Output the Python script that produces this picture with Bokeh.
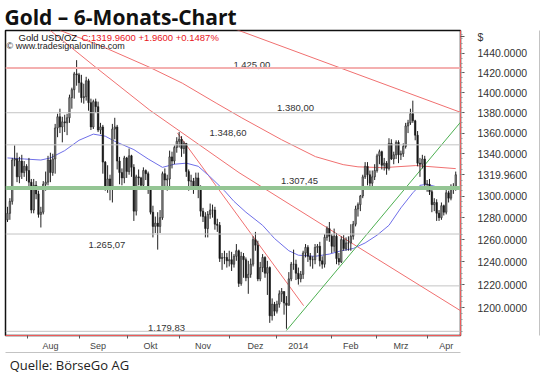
from bokeh.plotting import figure
from bokeh.layouts import column
from bokeh.models import (ColumnDataSource, Range1d, FixedTicker, NumeralTickFormatter,
                          Span, Label, LinearAxis)
from bokeh.core.properties import value
from bokeh.embed import file_html
from bokeh.resources import INLINE

# ---------------- data (daily bars, 18 Jul 2013 - 10 Apr 2014) ----------------
first_open = 1278.0
close = [
    1284, 1295, 1334, 1335, 1318, 1333, 1322, 1328, 1324, 1313,
    1287, 1310, 1302, 1283, 1285, 1311, 1313, 1334, 1322, 1335, 1365, 1376, 1366, 1371, 1370, 1375, 1395, 1403, 1419, 1418, 1410, 1395,
    1396, 1412, 1390, 1366, 1391, 1386, 1363, 1366, 1332, 1308, 1316, 1309, 1364, 1366, 1333, 1322, 1317, 1336, 1323, 1338, 1327,
    1286, 1318, 1317, 1310, 1324, 1321, 1306, 1285, 1272, 1275, 1272, 1280, 1321, 1315, 1316, 1337, 1333, 1346, 1352, 1354, 1345, 1350, 1323,
    1314, 1314, 1309, 1317, 1308, 1286, 1281, 1270, 1283, 1287, 1287, 1274, 1273, 1243, 1244, 1244, 1241, 1242, 1238, 1245, 1250,
    1221, 1245, 1242, 1226, 1229, 1238, 1260, 1255, 1225, 1235, 1244, 1230, 1235, 1193, 1203, 1197, 1203, 1212, 1214, 1204, 1202,
    1225, 1238, 1238, 1230, 1225, 1229, 1248, 1253, 1245, 1242, 1242, 1253, 1254, 1241, 1238, 1262, 1270, 1263, 1254, 1263, 1243, 1240,
    1260, 1252, 1257, 1257, 1263, 1274, 1288, 1292, 1300, 1318, 1328, 1320, 1312, 1318, 1324, 1338, 1342, 1329, 1331, 1326,
    1350, 1335, 1339, 1351, 1339, 1340, 1347, 1367, 1370, 1379, 1372, 1358, 1331, 1330, 1335, 1311, 1311, 1304, 1292, 1294, 1284,
    1280, 1291, 1285, 1303, 1298, 1309, 1307, 1319.96,
]
high = [
    1290, 1298, 1336, 1348, 1341, 1337, 1339, 1333, 1330, 1336,
    1316, 1316, 1314, 1305, 1290, 1314, 1323, 1338, 1341, 1340, 1369, 1379, 1384, 1376, 1378, 1379, 1398, 1405, 1421, 1433, 1420, 1418,
    1409, 1416, 1414, 1394, 1393, 1394, 1391, 1370, 1368, 1333, 1329, 1320, 1369, 1375, 1368, 1337, 1326, 1338, 1337, 1345, 1339,
    1330, 1320, 1325, 1318, 1327, 1325, 1323, 1309, 1291, 1281, 1285, 1287, 1323, 1326, 1320, 1343, 1342, 1348, 1356, 1361, 1357, 1352, 1350,
    1325, 1320, 1317, 1322, 1322, 1310, 1289, 1285, 1286, 1293, 1292, 1290, 1279, 1276, 1248, 1250, 1248, 1250, 1249, 1247, 1256,
    1251, 1249, 1248, 1244, 1241, 1243, 1263, 1267, 1259, 1240, 1247, 1245, 1241, 1236, 1208, 1205, 1206, 1215, 1217, 1214, 1210,
    1231, 1240, 1251, 1242, 1235, 1232, 1250, 1256, 1255, 1248, 1245, 1256, 1256, 1258, 1245, 1265, 1272, 1276, 1265, 1270, 1266, 1248,
    1263, 1264, 1262, 1263, 1274, 1277, 1291, 1294, 1301, 1320, 1332, 1332, 1324, 1324, 1330, 1340, 1344, 1343, 1336, 1333,
    1355, 1354, 1342, 1353, 1353, 1343, 1350, 1370, 1373, 1384, 1392, 1373, 1362, 1336, 1339, 1338, 1315, 1316, 1306, 1298, 1297,
    1287, 1294, 1292, 1307, 1305, 1311, 1312, 1323,
]
low = [
    1276, 1278, 1292, 1328, 1313, 1312, 1316, 1318, 1314, 1306,
    1284, 1284, 1297, 1280, 1271, 1283, 1305, 1310, 1313, 1319, 1321, 1356, 1360, 1351, 1361, 1358, 1370, 1384, 1394, 1407, 1400, 1390,
    1389, 1392, 1382, 1363, 1364, 1380, 1361, 1359, 1321, 1305, 1303, 1296, 1294, 1354, 1325, 1311, 1310, 1312, 1317, 1320, 1318,
    1277, 1282, 1310, 1306, 1307, 1315, 1302, 1283, 1262, 1266, 1251, 1266, 1278, 1309, 1305, 1307, 1326, 1330, 1341, 1346, 1337, 1340, 1318,
    1305, 1307, 1302, 1306, 1298, 1281, 1276, 1262, 1262, 1279, 1280, 1269, 1267, 1240, 1233, 1238, 1235, 1236, 1232, 1235, 1241,
    1218, 1219, 1226, 1223, 1212, 1226, 1236, 1250, 1223, 1223, 1231, 1226, 1211, 1187, 1189, 1193, 1195, 1200, 1205, 1194, 1182,
    1202, 1223, 1233, 1224, 1220, 1222, 1225, 1244, 1240, 1236, 1234, 1238, 1248, 1236, 1234, 1235, 1259, 1258, 1248, 1249, 1238, 1237,
    1239, 1250, 1250, 1250, 1250, 1260, 1272, 1281, 1286, 1298, 1316, 1310, 1308, 1306, 1315, 1322, 1330, 1325, 1324, 1320,
    1324, 1334, 1330, 1335, 1331, 1334, 1337, 1345, 1360, 1368, 1370, 1353, 1328, 1318, 1326, 1307, 1304, 1301, 1285, 1286, 1277,
    1277, 1278, 1282, 1283, 1294, 1296, 1302, 1305,
]

# blue moving average
ma_blue_x = [0, 7, 14, 18, 24, 30, 36, 41, 45, 53, 59, 65, 70, 75, 80, 85, 91, 95, 100, 107, 112, 118, 122, 129, 135,
             140, 145, 150, 155, 160, 165, 170, 173, 176, 181, 188]
ma_blue_y = [1336, 1335, 1334, 1336, 1343, 1353, 1359, 1357, 1352, 1344, 1335, 1327, 1330, 1331, 1328, 1318, 1305, 1295,
             1285, 1273, 1261, 1250, 1246, 1245, 1247, 1250, 1252, 1257, 1264, 1273, 1289, 1303, 1310, 1311, 1308, 1307]
# red curved average
ma_red_x = [22.1, 38.75, 59.6, 73.3, 87.5, 98.3, 115, 129.2, 140.8, 147, 157.5, 171.25, 188]
ma_red_y = [1463.8, 1448.2, 1425.7, 1409.6, 1389.6, 1374.9, 1353.5, 1337.2, 1329.6, 1327.5, 1326.7, 1328.7, 1325.8]
# trend lines
trend1_x = [17.9, 37.5, 59.6, 97.1, 145, 190]
trend1_y = [1463.9, 1424.7, 1382.7, 1322.0, 1256.0, 1197.4]
trend2_x = [95, 193]
trend2_y = [1465.7, 1377.8]
trend3_x = [71.25, 124.2]
trend3_y = [1360.2, 1201.7]
trend_up_x = [117, 190.8]
trend_up_y = [1180.5, 1372.9]

levels = [1425.00, 1380.00, 1348.60, 1307.45, 1265.07, 1179.83]
extra_level = 1218.9
extra_level_from = 122

month_labels = ["Aug", "Sep", "Okt", "Nov", "Dez", "2014", "Feb", "Mrz", "Apr"]
y_ticks = [1200, 1220, 1240, 1260, 1280, 1300, 1340, 1360, 1380, 1400, 1420, 1440]
last_price = 1319.96
currency = "$"

# ---------------- layout / styles ----------------
month_label_pos = [18, 38, 60, 82, 104, 122, 144, 165, 184]
month_tick_pos = [8.3, 30, 50.4, 72, 93, 113, 136, 154.6, 176]
currency_tick = 1457
level_label_x = [102.5, 120.8, 92.5, 122.5, 41.7, 66.7]
level_label_dy = [-2.5, -4.5, -11.5, -7, 10.5, -3.5]
level_colors = ["#f4b0b0", "#c4c4c4", "#c4c4c4", "#94c594", "#c4c4c4", "#c4c4c4"]
level_widths = [2, 1, 1, 4, 1, 1]

W = 540
H_MAIN, H_SRC = 353, 22
RED = "#ee5a5a"
FONT = "Liberation Sans"

# main chart (title in its own panel above the frame)
p = figure(width=W, height=H_MAIN, output_backend="svg", toolbar_location=None,
           title="Gold \u2013 6-Monats-Chart",
           y_axis_type="log", y_axis_location="right",
           x_range=Range1d(-0.83, 190.0), y_range=Range1d(1176.3, 1463.8),
           min_border_left=5, min_border_right=77, min_border_top=0, min_border_bottom=16)
p.title.text_font = "Open Sans"
p.title.text_font_style = "bold"
p.title.text_font_size = "21px"
p.title.text_color = "#111"
p.title.align = "left"
p.title.offset = -1
p.title.standoff = 0
p.outline_line_color = "#111"
p.outline_line_width = 1.5
p.grid.visible = False
p.background_fill_color = "white"
p.border_fill_color = "white"

yax = p.yaxis[0]
yax.ticker = FixedTicker(ticks=y_ticks + [last_price, currency_tick],
                         minor_ticks=list(range(1180, 1461, 5)))
yax.formatter = NumeralTickFormatter(format="0.0000")
yax.major_label_overrides = {currency_tick: currency}
yax.axis_line_color = RED
yax.major_tick_line_color = "#555"
yax.major_tick_out = 4
yax.major_tick_in = 0
yax.minor_tick_line_color = "#999"
yax.minor_tick_out = 2
yax.minor_tick_in = 0
yax.major_label_text_font = FONT
yax.major_label_text_font_size = "10.5px"
yax.major_label_text_color = "#333"
yax.major_label_standoff = 13
yax.axis_label = "\u00a0"
yax.axis_label_text_font_size = "5px"
yax.axis_label_standoff = 1

# outer frame line on the right
yax2 = LinearAxis(ticker=FixedTicker(ticks=[]), axis_line_color="#111", axis_line_width=1.5,
                  major_tick_out=0, major_tick_in=0, minor_tick_out=0, minor_tick_in=0,
                  major_label_standoff=0, major_label_text_font_size="0px")
p.add_layout(yax2, "right")

xax = p.xaxis[0]
xax.ticker = FixedTicker(ticks=month_label_pos, minor_ticks=month_tick_pos)
xax.major_label_overrides = {pos: lbl for pos, lbl in zip(month_label_pos, month_labels)}
xax.axis_line_color = RED
xax.major_tick_line_color = None
xax.major_tick_out = 0
xax.major_tick_in = 0
xax.minor_tick_line_color = "#555"
xax.minor_tick_out = 3
xax.minor_tick_in = 0
xax.major_label_text_font = FONT
xax.major_label_text_font_size = "9px"
xax.major_label_text_color = "#444"
xax.major_label_standoff = 2

# outer frame line at the bottom
xax2 = LinearAxis(ticker=FixedTicker(ticks=[]), axis_line_color="#111", axis_line_width=1.5,
                  major_tick_out=0, major_tick_in=0, minor_tick_out=0, minor_tick_in=0,
                  major_label_standoff=0, major_label_text_font_size="0px")
p.add_layout(xax2, "below")

# horizontal levels
for lv, col, lw in zip(levels, level_colors, level_widths):
    p.add_layout(Span(location=lv, dimension="width", line_color=col, line_width=lw))
p.segment(x0=[extra_level_from], y0=[extra_level], x1=[200], y1=[extra_level],
          line_color="#c4c4c4", line_width=1)


def de(v):
    return f"{v:,.2f}".replace(",", "X").replace(".", ",").replace("X", ".")


lsrc = ColumnDataSource(dict(x=level_label_x, y=levels, t=[de(v) for v in levels], dy=level_label_dy))
p.text(x="x", y="y", text="t", y_offset="dy", source=lsrc, text_font=value(FONT),
       text_font_size="9.5px", text_color="#333", text_align="center", text_baseline="alphabetic")

# indicator / trend lines
p.line(ma_red_x, ma_red_y, line_color="#f07070", line_width=1)
p.line(trend1_x, trend1_y, line_color="#f07070", line_width=1)
p.line(trend2_x, trend2_y, line_color="#f07070", line_width=1)
p.line(trend3_x, trend3_y, line_color="#f07070", line_width=1)
p.line(ma_blue_x, ma_blue_y, line_color="#6f6fe8", line_width=1)
p.line(trend_up_x, trend_up_y, line_color="#4caf50", line_width=1)

# candles
idx = list(range(len(close)))
opn = [first_open] + close[:-1]
top = [max(a, b) for a, b in zip(opn, close)]
bot = [min(a, b) for a, b in zip(opn, close)]
col = ["#8c8c8c" if c >= o else "#111111" for o, c in zip(opn, close)]
src = ColumnDataSource(dict(x=idx, h=high, l=low, top=top, bot=bot, col=col))
p.segment(x0="x", y0="h", x1="x", y1="l", source=src, line_color="#222222", line_width=1)
p.vbar(x="x", width=0.62, top="top", bottom="bot", fill_color="col", line_color="#222222",
       line_width=0.6, source=src)

# legend texts inside the chart (frame-relative screen units)
FH = 307  # frame height
p.add_layout(Label(x=13, y=FH - 8.5, x_units="screen", y_units="screen", text="Gold USD/OZ",
                   text_font=FONT, text_font_size="9.5px", text_color="#111", text_baseline="alphabetic"))
p.add_layout(Label(x=76, y=FH - 8.5, x_units="screen", y_units="screen",
                   text=f"C:{last_price:.4f} +1.9600 +0.1487%",
                   text_font=FONT, text_font_size="9.5px", text_color="#e8141b", text_baseline="alphabetic"))
p.add_layout(Label(x=1, y=FH - 17.5, x_units="screen", y_units="screen", text="\u00a9 www.tradesignalonline.com",
                   text_font=FONT, text_font_size="9px", text_color="#222", text_baseline="alphabetic"))

# source strip
ps = figure(width=W, height=H_SRC, output_backend="svg", toolbar_location=None, title=None,
            x_range=Range1d(0, W), y_range=Range1d(0, H_SRC),
            x_axis_location=None, y_axis_location=None,
            min_border_left=0, min_border_right=0, min_border_top=0, min_border_bottom=0)
ps.outline_line_color = None
ps.grid.visible = False
ps.text(x=[5], y=[H_SRC - 11], text=["Quelle: BörseGo AG"], text_font=value("Open Sans"),
        text_font_size="13px", text_color="#222", text_align="left", text_baseline="alphabetic")

layout = column(p, ps, spacing=0)
open("out.html", "w").write(file_html(layout, INLINE))
